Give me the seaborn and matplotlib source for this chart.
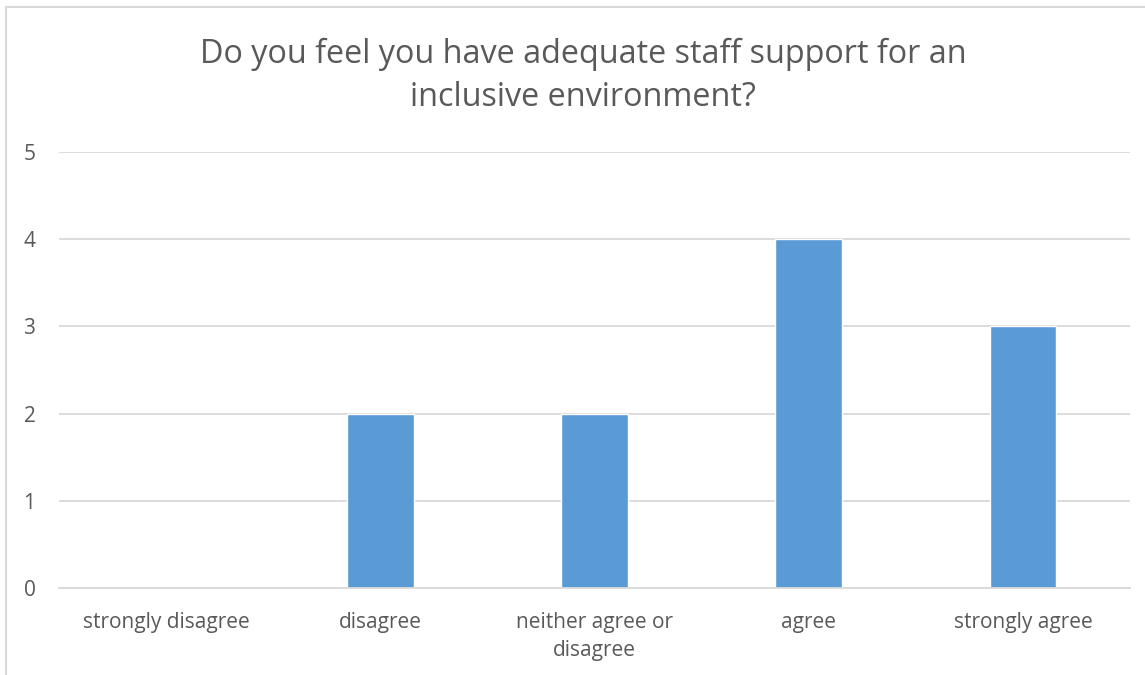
import matplotlib
matplotlib.use("Agg")
import matplotlib.pyplot as plt
import seaborn as sns
import pandas as pd
from matplotlib.patches import Rectangle

categories = ["strongly disagree", "disagree", "neither agree or\ndisagree", "agree", "strongly agree"]
values = [0, 2, 2, 4, 3]
title = "Do you feel you have adequate staff support for an\ninclusive environment?"

sns.set_theme(style="white")
plt.rcParams['font.family'] = ['Open Sans', 'DejaVu Sans']

df = pd.DataFrame({"cat": categories, "val": values})
fig = plt.figure(figsize=(11.45, 6.75), dpi=100)
ax = fig.add_axes([59/1145, 1 - 588/675, (1130-59)/1145, (588-152)/675])

sns.barplot(data=df, x="cat", y="val", color="#5B9BD5", width=0.31, ax=ax, saturation=1)
ax.set_ylim(0, 5)
ax.set_yticks([0, 1, 2, 3, 4, 5])
ax.yaxis.grid(True, color="#D9D9D9", linewidth=1.3)
ax.set_axisbelow(True)
for s in ["top", "right", "left"]:
    ax.spines[s].set_visible(False)
ax.spines["bottom"].set_color("#D9D9D9")
ax.spines["bottom"].set_linewidth(1.3)
ax.tick_params(axis="both", length=0, labelsize=15, colors="#595959")
ax.tick_params(axis="x", pad=17)
ax.tick_params(axis="y", pad=17)
ax.set_xlabel("")
ax.set_ylabel("")
for lbl in ax.get_xticklabels():
    lbl.set_linespacing(1.45)
    lbl.set_va("top")

fig.text(583/1145, 1 - 76/675, title, ha="center", va="center", fontsize=23.3, color="#595959", linespacing=1.42)
fig.patches.append(Rectangle((6/1145, -0.1), 1.2, 1 - 7/675 + 0.1, transform=fig.transFigure,
                             fill=False, edgecolor="#D9D9D9", linewidth=1.5))
fig.savefig("out.png", dpi=100)
